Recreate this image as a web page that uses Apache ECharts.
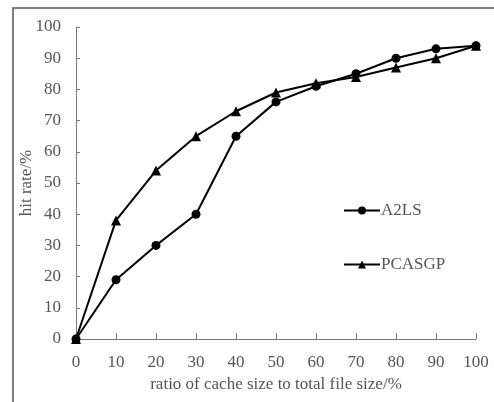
<!DOCTYPE html>
<html lang="en">
<head>
    <meta charset="UTF-8">
    <title>Hit rate</title>
    <style>
        body { margin: 0; padding: 0; background: #fff; }
        #main { width: 494px; height: 402px; }
    </style>
</head>
<body>
<div id="main"></div>
<script src="https://cdn.jsdelivr.net/npm/echarts@6/dist/echarts.min.js"></script>
<script>
    const ratios = [0, 10, 20, 30, 40, 50, 60, 70, 80, 90, 100];
    const a2ls = [0, 19, 30, 40, 65, 76, 81, 85, 90, 93, 94];
    const pcasgp = [0, 38, 54, 65, 73, 79, 82, 84, 87, 90, 94];

    const font = 'Liberation Serif';
    const textColor = '#555';

    const chart = echarts.init(document.getElementById('main'));

    const option = {
        backgroundColor: '#fff',
        animation: false,
        graphic: [{
            type: 'rect',
            shape: { x: 13, y: 8, width: 520, height: 440 },
            style: { fill: 'none', stroke: '#555', lineWidth: 1.5 }
        }],
        grid: { left: 76, right: 18, top: 27, bottom: 63 },
        legend: {
            orient: 'vertical',
            left: 338,
            top: 197,
            itemGap: 37,
            itemWidth: 36,
            itemHeight: 10,
            textStyle: { fontFamily: font, fontSize: 17, color: textColor, padding: [0, 0, 0, -4] },
            data: ['A2LS', 'PCASGP']
        },
        xAxis: {
            type: 'value',
            min: 0,
            max: 100,
            interval: 10,
            name: 'ratio of cache size to total file size/%',
            nameLocation: 'middle',
            nameGap: 37,
            nameMoveOverlap: false,
            nameTextStyle: { fontFamily: font, fontSize: 17, color: textColor },
            axisLine: { lineStyle: { color: '#777', width: 1 } },
            axisTick: { show: true, inside: true, length: 6, lineStyle: { color: '#777' } },
            axisLabel: { fontFamily: font, fontSize: 17, color: textColor, margin: 15 },
            splitLine: { show: false }
        },
        yAxis: {
            type: 'value',
            min: 0,
            max: 100,
            interval: 10,
            name: 'hit rate/%',
            nameLocation: 'middle',
            nameGap: 41,
            nameMoveOverlap: false,
            nameTextStyle: { fontFamily: font, fontSize: 17, color: textColor },
            axisLine: { show: true, lineStyle: { color: '#777', width: 1 } },
            axisTick: { show: true, inside: true, length: 4, lineStyle: { color: '#777' } },
            axisLabel: { fontFamily: font, fontSize: 17, color: textColor, margin: 15 },
            splitLine: { show: false }
        },
        series: [
            {
                name: 'A2LS',
                type: 'line',
                data: ratios.map((r, i) => [r, a2ls[i]]),
                symbol: 'circle',
                symbolSize: 9,
                itemStyle: { color: '#000' },
                lineStyle: { color: '#000', width: 2 }
            },
            {
                name: 'PCASGP',
                type: 'line',
                data: ratios.map((r, i) => [r, pcasgp[i]]),
                symbol: 'triangle',
                symbolSize: 10,
                itemStyle: { color: '#000' },
                lineStyle: { color: '#000', width: 2 }
            }
        ]
    };

    chart.setOption(option);
</script>
</body>
</html>
